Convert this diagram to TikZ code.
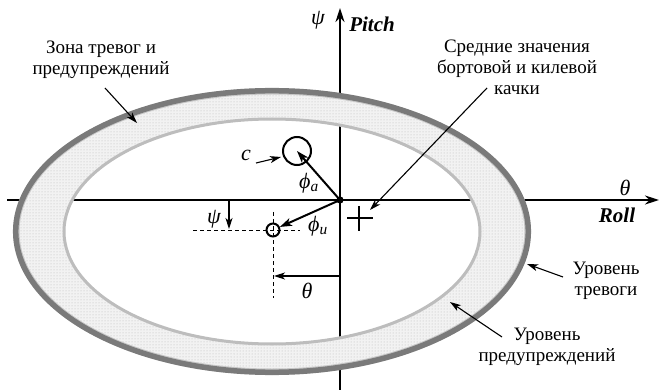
\documentclass[tikz,border=0pt]{standalone}
\usepackage{fontspec}
\setmainfont{Liberation Serif}
\usetikzlibrary{arrows.meta,patterns}
\begin{document}
\begin{tikzpicture}[x=1pt,y=-1pt,
  lbl/.style={font=\fontsize{19}{21}\selectfont, align=center, inner sep=0pt},
  glbl/.style={font=\fontsize{22}{24}\selectfont\itshape, inner sep=0pt},
  axlbl/.style={font=\fontsize{21}{23}\selectfont\bfseries\itshape, inner sep=0pt},
  axisarrow/.style={line width=2pt, -{Stealth[length=14pt,width=9pt]}},
  note/.style={line width=1.1pt, -{Stealth[length=11pt,width=7pt,inset=3pt]}},
  vec/.style={line width=2pt, -{Stealth[length=12pt,width=8pt,inset=3pt]}},
  guide/.style={line width=0.9pt, dash pattern=on 4pt off 3pt},
  ring/.style={circle, draw, line width=2pt, inner sep=0pt},
]
\useasboundingbox (0,0) rectangle (661,390);

% axes
\coordinate (O) at (340,200);
\coordinate (xs) at (7,200);
\coordinate (xe) at (659,200);
\coordinate (ys) at (340,392);
\coordinate (ye) at (340,8);
\draw[axisarrow] (xs) -- (xe);
\draw[axisarrow] (ys) -- (ye);

% warning/alarm band
\coordinate (E) at (272,231.5);
\fill[black!5, even odd rule] (E) ellipse [x radius=259, y radius=143.5] (E) ellipse [x radius=207, y radius=111.5];
\fill[pattern=dots, pattern color=black!28, even odd rule] (E) ellipse [x radius=259, y radius=143.5] (E) ellipse [x radius=207, y radius=111.5];
\draw[black!26, line width=3pt] (E) ellipse [x radius=208, y radius=112.5];
\draw[black!22, line width=2pt] (E) ellipse [x radius=253.5, y radius=138];
\draw[black!52, line width=5.5pt] (E) ellipse [x radius=256.3, y radius=140.8];

% guides
\coordinate (hl) at (193,230);
\coordinate (hr) at (300,230);
\coordinate (vt) at (273,212);
\coordinate (vb) at (273,298);
\draw[guide] (hl) -- (hr);
\draw[guide] (vt) -- (vb);

% circles and vectors
\node[ring, minimum size=28pt] (ca) at (297,151) {};
\node[ring, minimum size=13pt] (cu) at (273,230) {};
\fill (O) circle [radius=3.6];
\draw[vec] (O) -- (ca.center);
\draw[vec] (O) -- (cu);

% mean value cross
\draw[line width=2pt] (347,218) -- (373,218) (359,206) -- (359,231);

% psi / theta offsets
\coordinate (pa) at (229,200);
\coordinate (pb) at (229,229);
\draw[note] (pa) -- (pb);
\coordinate (ta) at (340,276);
\coordinate (tb) at (274,276);
\draw[note] (ta) -- (tb);

% labels
\node[glbl] (psit) at (318,20) {ψ};
\node[axlbl] (pitch) at (372,24) {Pitch};
\node[glbl] (thr) at (625,188) {θ};
\node[axlbl] (roll) at (617,215) {Roll};
\node[glbl] (psil) at (214,219) {ψ};
\node[glbl] (thl) at (307,291) {θ};
\node[glbl] (phia) at (309,183) {ϕ\textsubscript{a}};
\node[glbl] (phiu) at (318,226) {ϕ\textsubscript{u}};
\node[glbl] (clbl) at (246,155) {c};

\node[lbl] (zona) at (101,60) {Зона тревог и\\предупреждений};
\node[lbl] (sred) at (517,67) {Средние значения\\бортовой и килевой\\качки};
\node[lbl] (trev) at (606,281) {Уровень\\тревоги};
\node[lbl] (pred) at (547,347) {Уровень\\предупреждений};

% annotation arrows
\coordinate (z1) at (105,88);
\coordinate (z2) at (137,123);
\draw[note] (z1) -- (z2);
\coordinate (s1) at (487,88);
\coordinate (s2) at (370,210);
\draw[note] (s1) -- (s2);
\coordinate (t1) at (563,277);
\coordinate (t2) at (527,264);
\draw[note] (t1) -- (t2);
\coordinate (p1) at (502,337);
\coordinate (p2) at (450,302);
\draw[note] (p1) -- (p2);
\coordinate (c1) at (256,163);
\coordinate (c2) at (281,157);
\draw[note] (c1) -- (c2);
\end{tikzpicture}
\end{document}
